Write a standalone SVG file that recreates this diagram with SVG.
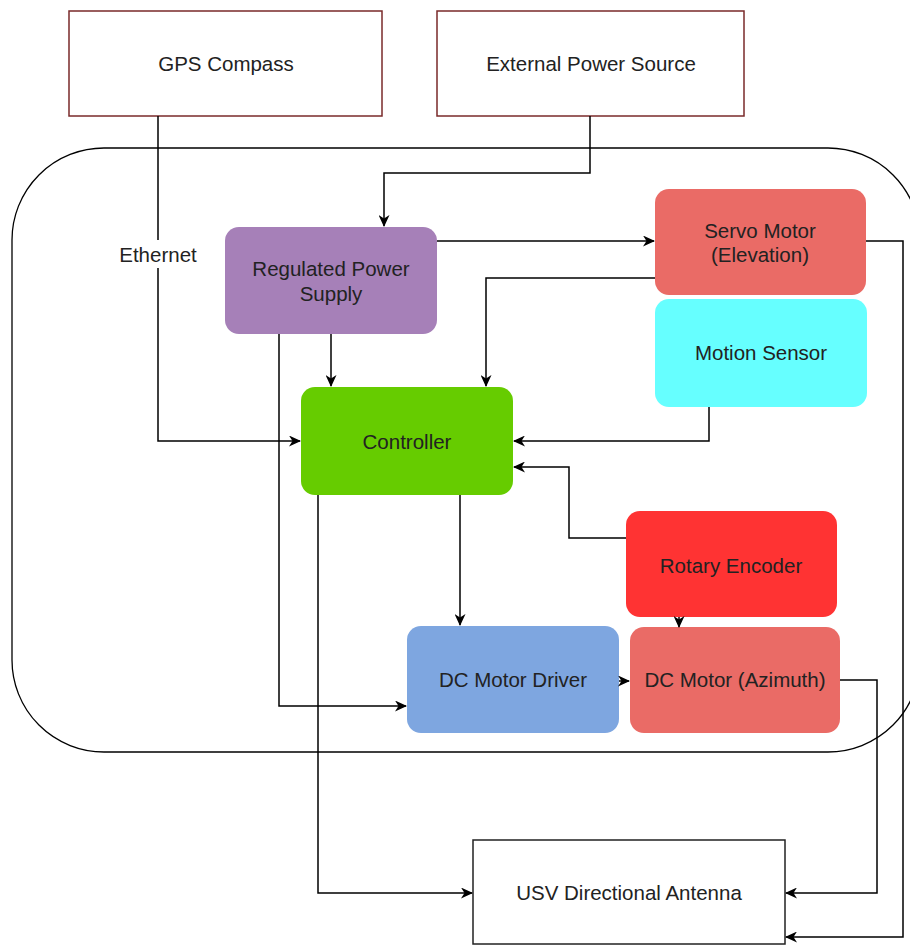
<svg xmlns="http://www.w3.org/2000/svg" width="910" height="945" viewBox="0 0 910 945">
<style>
text{font-family:"Liberation Sans",Arial,sans-serif;font-size:20.5px;fill:#222;text-anchor:middle}
.ext{fill:#fff;stroke:#7a2a2a;stroke-width:1.5}
.node{stroke:none}
.c{fill:none;stroke:#000;stroke-width:1.5}
</style>
<defs>
<marker id="a" viewBox="0 0 12 11" refX="11" refY="5.5" markerWidth="12" markerHeight="11" markerUnits="userSpaceOnUse" orient="auto">
<path d="M0,0 L12,5.5 L0,11 L3.5,5.5 Z" fill="#000"/>
</marker>
</defs>
<rect x="0" y="0" width="910" height="945" fill="#fff"/>
<g id="container"><rect x="12" y="148" width="908" height="604" rx="92" ry="92" fill="none" stroke="#000" stroke-width="1.3"/></g>
<g id="gps"><rect class="ext" x="69" y="11" width="313" height="105"/><text x="226" y="71">GPS Compass</text></g>
<g id="eps"><rect class="ext" x="437" y="11" width="307" height="105"/><text x="591" y="71">External Power Source</text></g>
<g id="rps"><rect class="node" x="225" y="227" width="212" height="107" rx="14" fill="#a680b8"/><text x="331" y="276">Regulated Power</text><text x="331" y="301">Supply</text></g>
<g id="servo"><rect class="node" x="655" y="189" width="211" height="106" rx="14" fill="#ea6b66"/><text x="760" y="238">Servo Motor</text><text x="760" y="262">(Elevation)</text></g>
<g id="motion"><rect class="node" x="655" y="299" width="212" height="108" rx="14" fill="#66ffff"/><text x="761" y="360">Motion Sensor</text></g>
<g id="controller"><rect class="node" x="301" y="387" width="212" height="108" rx="14" fill="#66cc00"/><text x="407" y="449">Controller</text></g>
<g id="rotary"><rect class="node" x="626" y="511" width="211" height="106" rx="14" fill="#ff3333"/><text x="731" y="573">Rotary Encoder</text></g>
<g id="driver"><rect class="node" x="407" y="626" width="212" height="107" rx="14" fill="#7ea6e0"/><text x="513" y="687">DC Motor Driver</text></g>
<g id="motor"><rect class="node" x="630" y="627" width="210" height="106" rx="14" fill="#ea6b66"/><text x="735" y="687">DC Motor (Azimuth)</text></g>
<g id="usv"><rect x="473" y="840" width="312" height="104" fill="#fff" stroke="#222" stroke-width="1.5"/><text x="629" y="900">USV Directional Antenna</text></g>
<g id="connectors">
<path class="c" d="M158,116 V441 H300" marker-end="url(#a)"/>
<rect x="112" y="240" width="92" height="28" fill="#fff"/>
<text x="158" y="262">Ethernet</text>
<path class="c" d="M590,116 V173 H384 V226" marker-end="url(#a)"/>
<path class="c" d="M437,241 H654" marker-end="url(#a)"/>
<path class="c" d="M655,278 H486 V386" marker-end="url(#a)"/>
<path class="c" d="M331,334 V386" marker-end="url(#a)"/>
<path class="c" d="M279,334 V706 H406" marker-end="url(#a)"/>
<path class="c" d="M709,407 V441 H514" marker-end="url(#a)"/>
<path class="c" d="M626,538 H569 V467 H514" marker-end="url(#a)"/>
<path class="c" d="M460,495 V625" marker-end="url(#a)"/>
<path class="c" d="M318,495 V893 H472" marker-end="url(#a)"/>
<path class="c" d="M619,681 H629" marker-end="url(#a)"/>
<path class="c" d="M679,617 V627" marker-end="url(#a)"/>
<path class="c" d="M840,680 H877 V893 H786" marker-end="url(#a)"/>
<path class="c" d="M866,241 H903 V937 H786" marker-end="url(#a)"/>
</g>
</svg>
